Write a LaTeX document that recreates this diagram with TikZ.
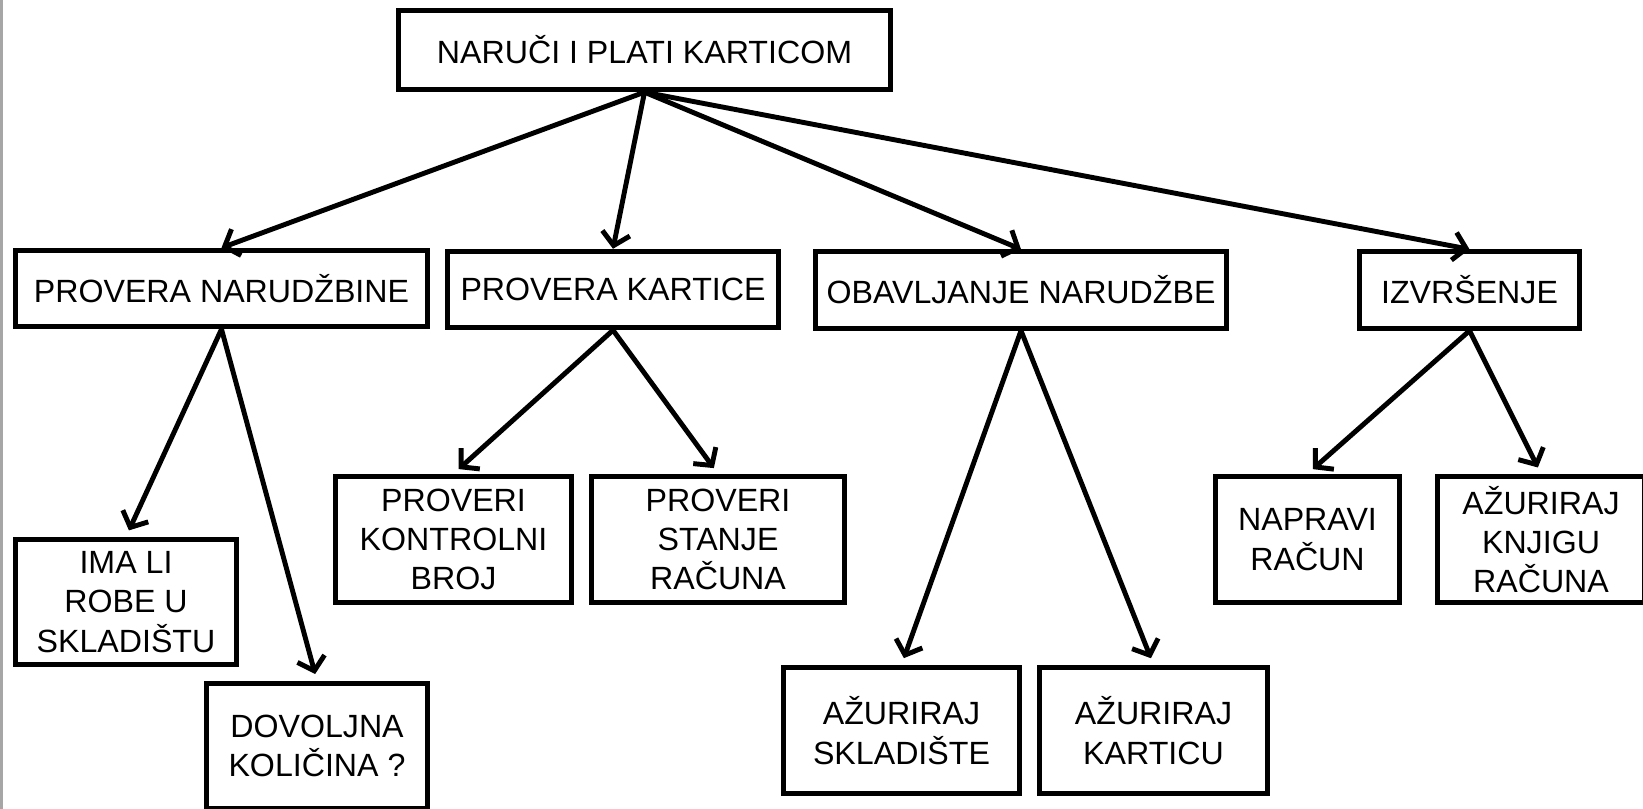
\documentclass[tikz,border=0pt]{standalone}
\usepackage{fontspec}
\setmainfont{Liberation Sans}
\usetikzlibrary{arrows.meta}
\begin{document}
\begin{tikzpicture}[>={Straight Barb[length=1.25mm,width=2.8mm]},
		box/.style={draw,line width=1.4pt,inner sep=0pt,align=center,font=\fontsize{9.15}{11.2}\selectfont},
		veza/.style={->,line width=1.4pt}]
		\useasboundingbox (0,0) rectangle (16.43,8.09);
		\clip (0,0) rectangle (16.43,8.09);
		\draw[gray!70,line width=0.3mm] (0.015,0)--(0.015,8.09);
		% vrh
		\node[box,minimum width=4.925cm,minimum height=0.795cm] (glavni) at (6.445,7.59) {NARUČI I PLATI KARTICOM};
		% prvi nivo
		\node[box,minimum width=4.125cm,minimum height=0.765cm] (narudzbina) at (2.215,5.205) {PROVERA NARUDŽBINE};
		\node[box,minimum width=3.315cm,minimum height=0.765cm] (kartica) at (6.13,5.195) {PROVERA KARTICE};
		\node[box,minimum width=4.115cm,minimum height=0.765cm] (obavljanje) at (10.21,5.19) {OBAVLJANJE NARUDŽBE};
		\node[box,minimum width=2.205cm,minimum height=0.765cm] (izvrsenje) at (14.695,5.19) {IZVRŠENJE};
		% drugi nivo
		\node[box,minimum width=2.215cm,minimum height=1.255cm] (robe) at (1.26,2.07) {IMA LI\\ROBE U\\SKLADIŠTU};
		\node[box,minimum width=2.215cm,minimum height=1.255cm] (kolicina) at (3.17,0.63) {DOVOLJNA\\KOLIČINA ?};
		\node[box,minimum width=2.365cm,minimum height=1.265cm] (kontrolni) at (4.535,2.695) {PROVERI\\KONTROLNI\\BROJ};
		\node[box,minimum width=2.535cm,minimum height=1.265cm] (stanje) at (7.18,2.695) {PROVERI\\STANJE\\RAČUNA};
		\node[box,minimum width=2.365cm,minimum height=1.265cm] (skladiste) at (9.015,0.785) {AŽURIRAJ\\SKLADIŠTE};
		\node[box,minimum width=2.285cm,minimum height=1.265cm] (karticu) at (11.535,0.785) {AŽURIRAJ\\KARTICU};
		\node[box,minimum width=1.845cm,minimum height=1.265cm] (racun) at (13.075,2.695) {NAPRAVI\\RAČUN};
		\node[box,minimum width=2.075cm,minimum height=1.265cm] (knjiga) at (15.41,2.695) {AŽURIRAJ\\KNJIGU\\RAČUNA};
		% veze
		\foreach \x in {narudzbina,kartica,obavljanje,izvrsenje}{
			\draw[veza] (glavni.south) -- (\x.north);
		}
		\foreach \x \y in {narudzbina/robe,narudzbina/kolicina,kartica/kontrolni,kartica/stanje,obavljanje/skladiste,obavljanje/karticu,izvrsenje/racun,izvrsenje/knjiga}{
			\draw[veza,shorten >=2pt] (\x.south) -- (\y.north);
		}
	\end{tikzpicture}
\end{document}
